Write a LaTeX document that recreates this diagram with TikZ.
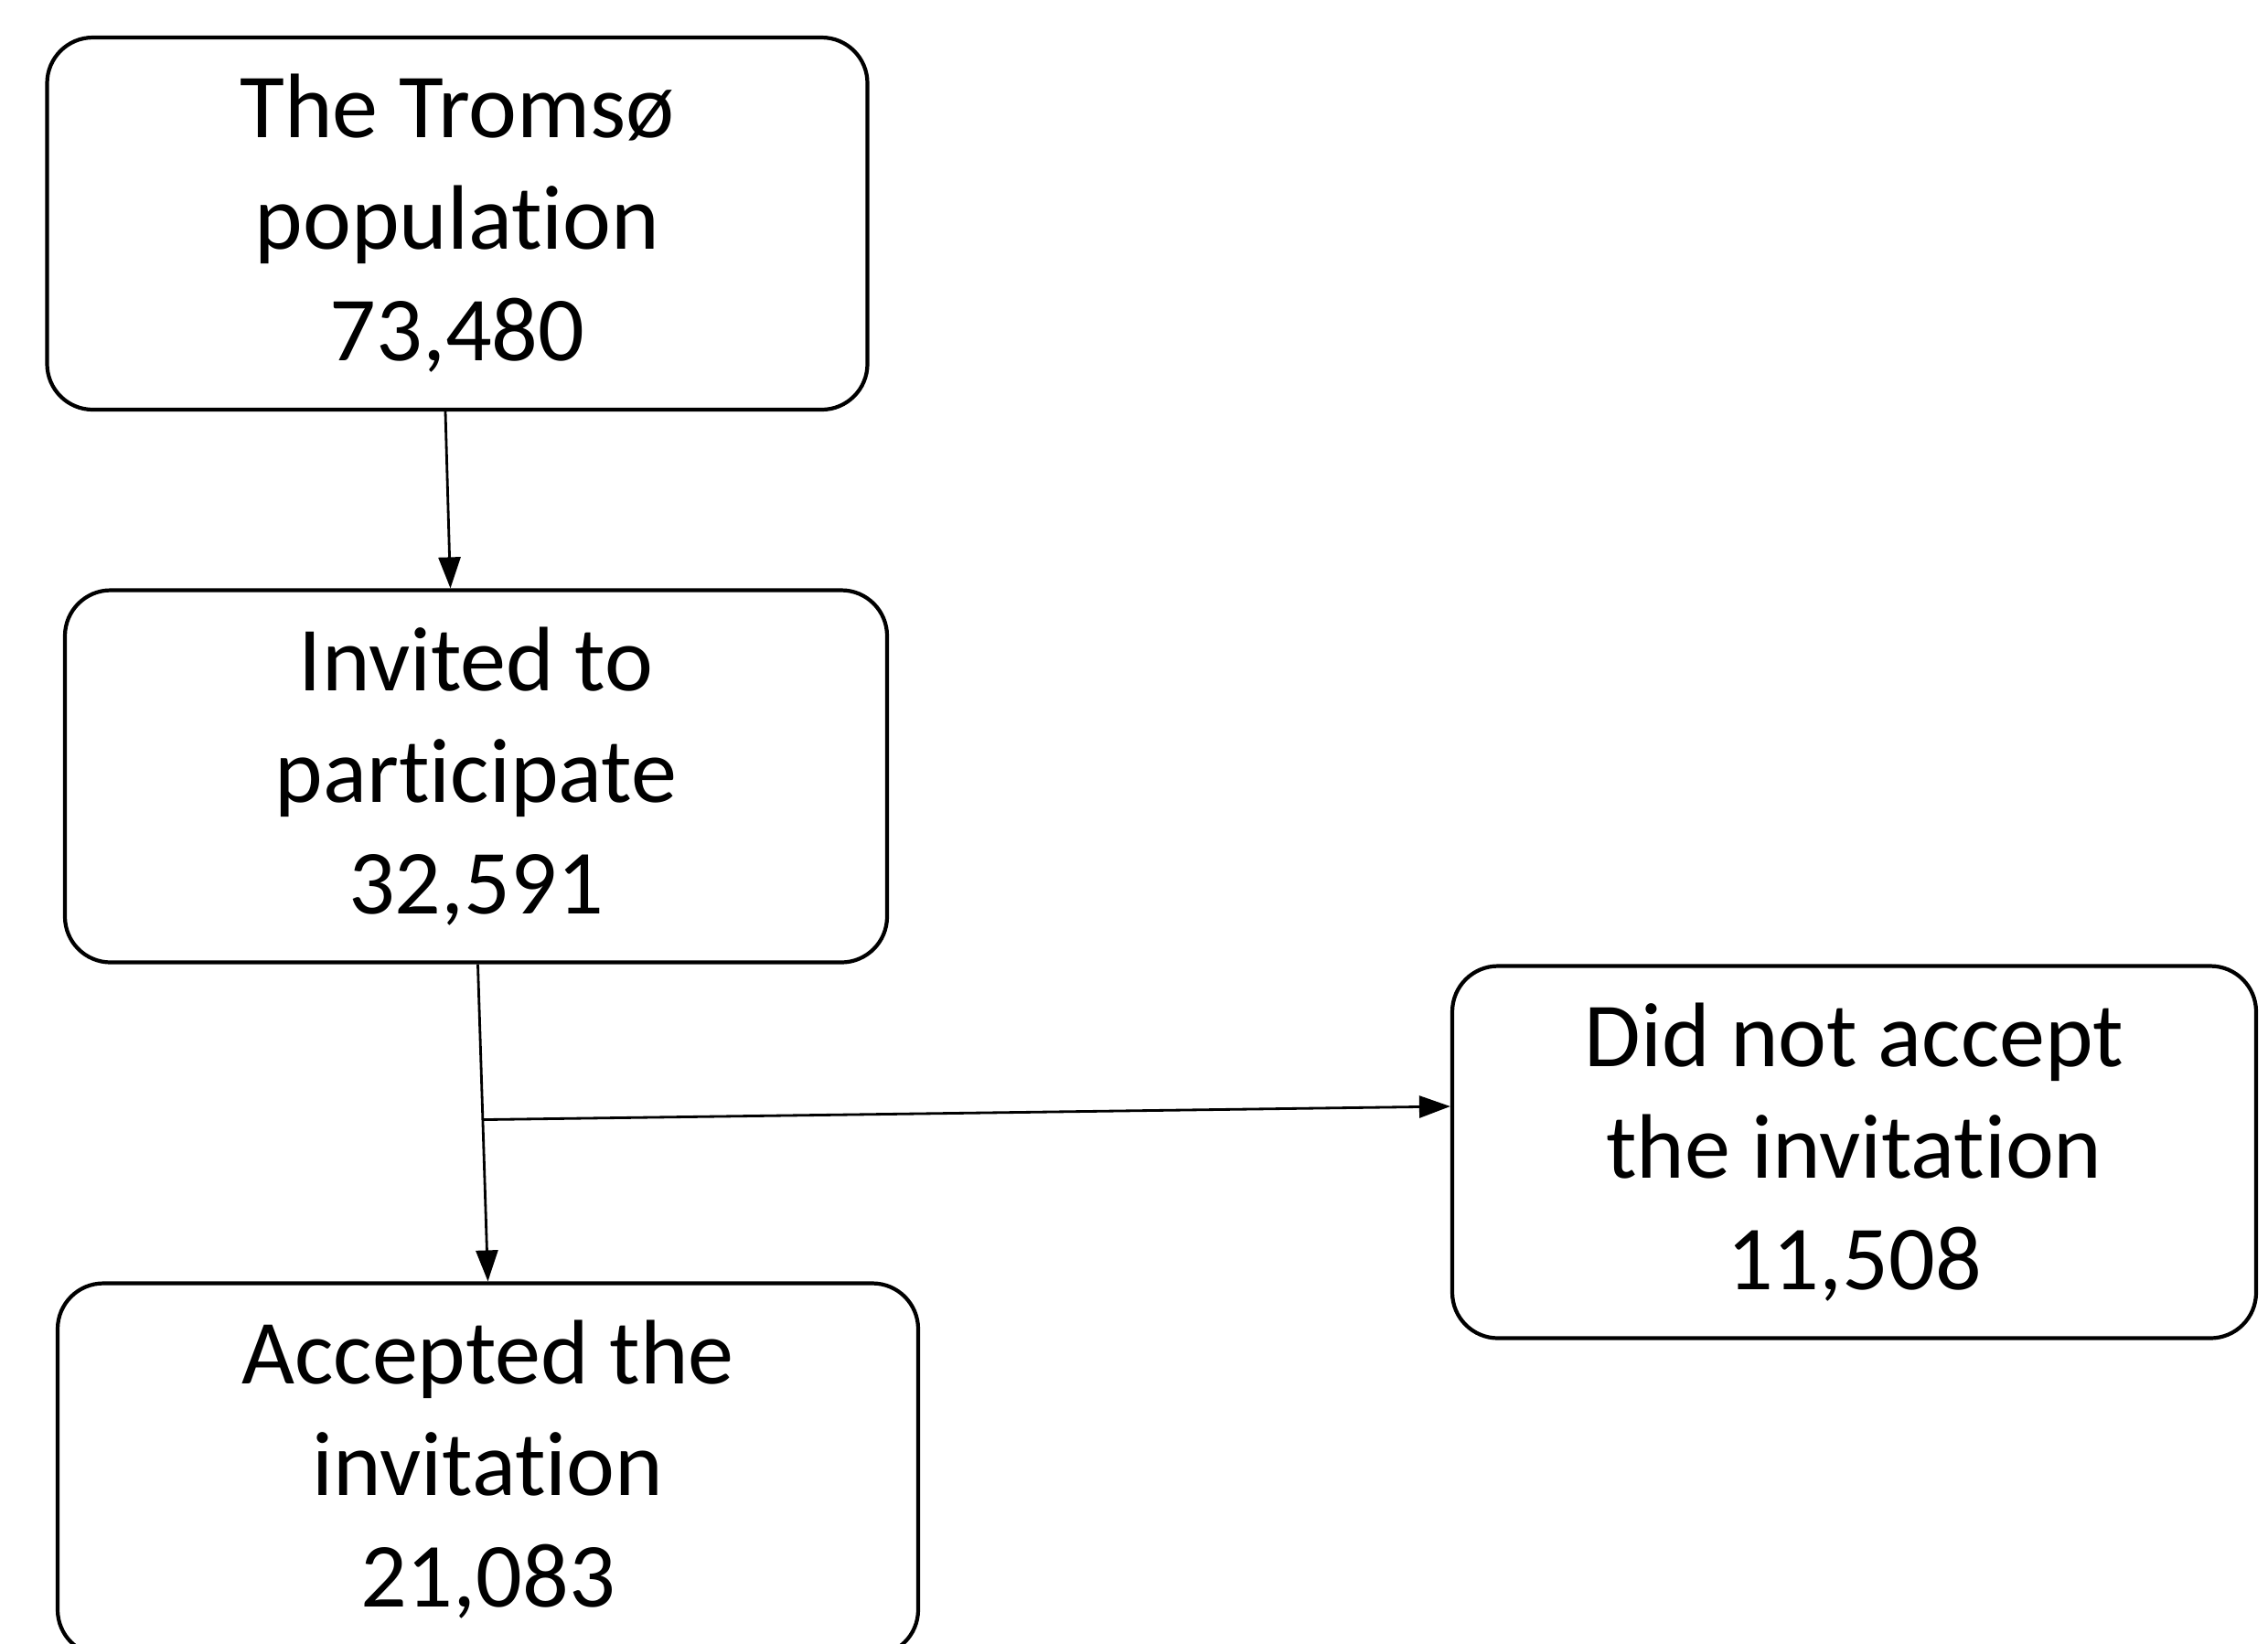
\documentclass[tikz,border=0pt]{standalone}
\usepackage{fontspec}
\setmainfont{Carlito}[Ligatures=NoCommon]
\usetikzlibrary{arrows.meta,calc}

\begin{document}
\begin{tikzpicture}[
    box/.style={draw, line width=1.2pt, rounded corners=0.5cm, align=center, inner sep=0pt,
                minimum height=4.07cm, font=\fontsize{28.5}{34.7}\selectfont},
    arr/.style={line width=0.8pt, -{Triangle[length=0.34cm, width=0.24cm]}}
]
    \useasboundingbox (0,0) rectangle (24.8,-17.97);

    % Boxes
    \node[box, minimum width=8.97cm] (pop) at (5.00,-2.445) {The Tromsø\\population\\73,480};
    \node[box, minimum width=8.99cm] (inv) at (5.205,-8.49) {Invited to\\participate\\32,591};
    \node[box, minimum width=9.41cm] (acc) at (5.335,-16.07) {Accepted the\\invitation\\21,083};
    \node[box, minimum width=8.79cm] (dec) at (20.275,-12.60) {Did not accept\\the invitation\\11,508};

    % Flow
    \draw[arr] ([xshift=-0.13cm]pop.south) -- ([xshift=-0.28cm]inv.north);
    \draw[arr] ([xshift=0.02cm]inv.south) -- (acc.north);
    \coordinate (split) at ($([xshift=0.02cm]inv.south)!0.49!(acc.north)$);
    \draw[arr] (split) -- ([yshift=0.5cm]dec.west);
\end{tikzpicture}
\end{document}
